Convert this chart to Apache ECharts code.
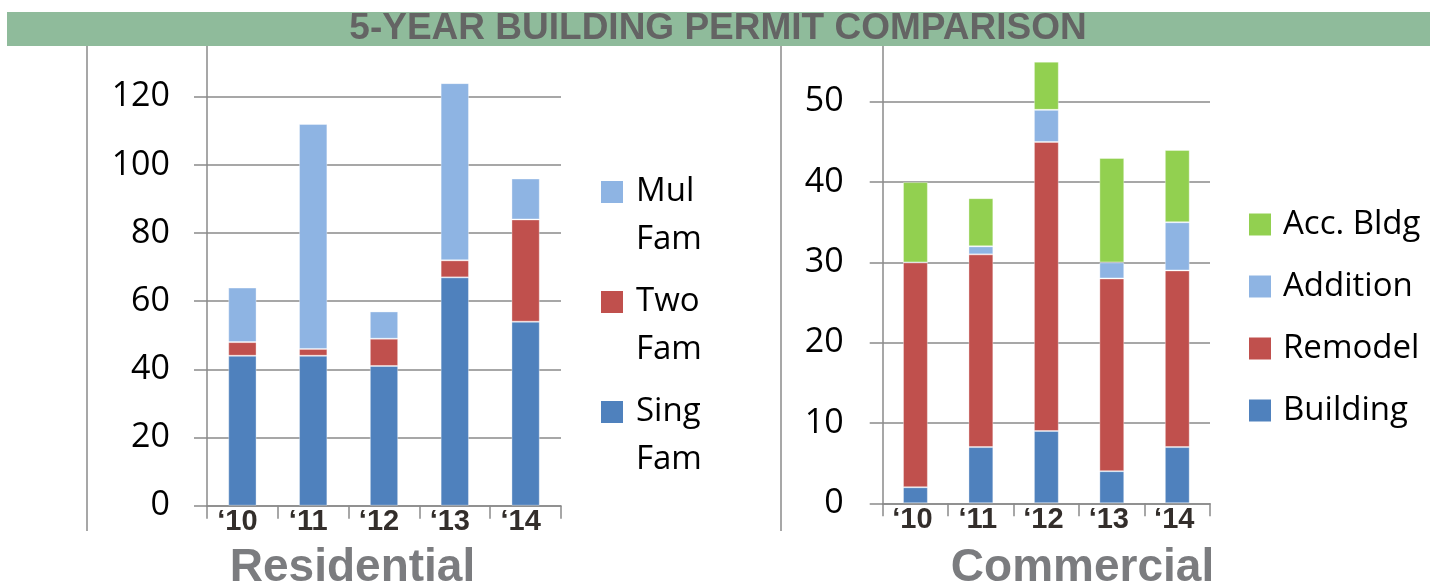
<!DOCTYPE html>
<html>
<head>
<meta charset="utf-8">
<title>5-Year Building Permit Comparison</title>
<script src="https://cdn.jsdelivr.net/npm/echarts@6/dist/echarts.min.js"></script>
<style>
  html, body { margin: 0; padding: 0; background: #fff; }
  #chart { width: 1448px; height: 584px; }
</style>
</head>
<body>
<div id="chart"></div>
<script>
// categories
const years = ["\u201810", "\u201811", "\u201812", "\u201813", "\u201814"];

// residential permits
const singFam = [44, 44, 41, 67, 54];
const twoFam = [4, 2, 8, 5, 30];
const mulFam = [16, 66, 8, 52, 12];

// commercial permits
const building = [2, 7, 9, 4, 7];
const remodel = [28, 24, 36, 24, 22];
const addition = [0, 1, 4, 2, 6];
const accBldg = [10, 6, 6, 13, 9];

// axis ranges
const resMax = 140;
const resStep = 20;
const comMax = 60;
const comStep = 10;

const resLegend = ["Mul Fam", "Two Fam", "Sing Fam"];
const comLegend = ["Acc. Bldg", "Addition", "Remodel", "Building"];

const C_DARK = "#4f81bd";
const C_RED = "#c0504d";
const C_LIGHT = "#8eb4e3";
const C_GREEN = "#92d050";
const GRID_GRAY = "#8a8a8a";

const chart = echarts.init(document.getElementById("chart"));

function xAxisFor(gridIndex, padRight) {
  return {
    type: "category",
    gridIndex: gridIndex,
    data: years,
    axisLine: { lineStyle: { color: GRID_GRAY, width: 1.5 } },
    axisTick: { show: true, length: 13, lineStyle: { color: GRID_GRAY, width: 1.5 } },
    axisLabel: {
      interval: 0,
      margin: 2,
      color: "#332e2b",
      fontFamily: "Liberation Sans",
      fontWeight: "bold",
      fontSize: 29,
      padding: [0, padRight, 0, 0]
    }
  };
}

function yAxisFor(gridIndex, max, step, margin) {
  return {
    type: "value",
    gridIndex: gridIndex,
    min: 0,
    max: max,
    interval: step,
    axisLine: { show: true, lineStyle: { color: GRID_GRAY, width: 1.5 } },
    axisTick: { show: true, length: 13, lineStyle: { color: GRID_GRAY, width: 1.5 } },
    splitLine: { lineStyle: { color: GRID_GRAY, width: 1.5 } },
    axisLabel: {
      showMaxLabel: false,
      margin: margin,
      color: "#000",
      fontFamily: "Open Sans",
      fontSize: 34
    }
  };
}

function bar(name, data, color, axis, width) {
  return {
    name: name,
    type: "bar",
    stack: "s" + axis,
    xAxisIndex: axis,
    yAxisIndex: axis,
    barWidth: width,
    data: data,
    itemStyle: { color: color, borderColor: "rgba(255,255,255,0.35)", borderWidth: 1 }
  };
}

chart.setOption({
  animation: false,
  grid: [
    { left: 207, top: 28.6, width: 354, height: 477.1 },
    { left: 882.7, top: 21.5, width: 327.3, height: 481.8 }
  ],
  xAxis: [xAxisFor(0, 10), xAxisFor(1, 6)],
  yAxis: [yAxisFor(0, resMax, resStep, 37), yAxisFor(1, comMax, comStep, 39)],
  legend: [
    {
      data: resLegend,
      orient: "vertical",
      left: 601,
      top: 120,
      padding: 0,
      itemWidth: 22,
      itemHeight: 22,
      itemGap: -34,
      icon: "rect",
      selectedMode: false,
      itemStyle: { borderWidth: 0 },
      // blank first line keeps the icon level with the first word
      formatter: (name) => "\n" + name.replace(" ", "\n"),
      textStyle: {
        fontFamily: "Open Sans",
        fontSize: 33,
        lineHeight: 48,
        color: "#000",
        padding: [0, 0, 0, 8]
      }
    },
    {
      data: comLegend,
      orient: "vertical",
      left: 1249,
      top: 208,
      padding: 0,
      itemWidth: 22,
      itemHeight: 22,
      itemGap: 29,
      icon: "rect",
      selectedMode: false,
      itemStyle: { borderWidth: 0 },
      textStyle: {
        fontFamily: "Open Sans",
        fontSize: 33,
        lineHeight: 32,
        color: "#000",
        padding: [0, 0, 0, 7]
      }
    }
  ],
  series: [
    bar("Sing Fam", singFam, C_DARK, 0, "40%"),
    bar("Two Fam", twoFam, C_RED, 0, "40%"),
    bar("Mul Fam", mulFam, C_LIGHT, 0, "40%"),
    bar("Building", building, C_DARK, 1, "38%"),
    bar("Remodel", remodel, C_RED, 1, "38%"),
    bar("Addition", addition, C_LIGHT, 1, "38%"),
    bar("Acc. Bldg", accBldg, C_GREEN, 1, "38%")
  ],
  graphic: [
    {
      type: "line",
      z: 50,
      shape: { x1: 87, y1: 46, x2: 87, y2: 531 },
      style: { stroke: GRID_GRAY, lineWidth: 1.5 }
    },
    {
      type: "line",
      z: 50,
      shape: { x1: 781, y1: 46, x2: 781, y2: 531 },
      style: { stroke: GRID_GRAY, lineWidth: 1.5 }
    },
    {
      type: "rect",
      z: 100,
      shape: { x: 7, y: 12, width: 1423, height: 34 },
      style: { fill: "#8fbb9b" }
    },
    {
      type: "text",
      z: 101,
      x: 718,
      y: 29,
      style: {
        text: "5-YEAR BUILDING PERMIT COMPARISON",
        fill: "#646464",
        font: "bold 37px 'Liberation Sans'",
        align: "center",
        verticalAlign: "middle"
      }
    },
    {
      type: "text",
      z: 101,
      x: 352.5,
      y: 568,
      style: {
        text: "Residential",
        fill: "#7b7c7f",
        font: "bold 46px 'Liberation Sans'",
        align: "center",
        verticalAlign: "middle"
      }
    },
    {
      type: "text",
      z: 101,
      x: 1082.5,
      y: 568,
      style: {
        text: "Commercial",
        fill: "#7b7c7f",
        font: "bold 46px 'Liberation Sans'",
        align: "center",
        verticalAlign: "middle"
      }
    }
  ]
});
</script>
</body>
</html>
